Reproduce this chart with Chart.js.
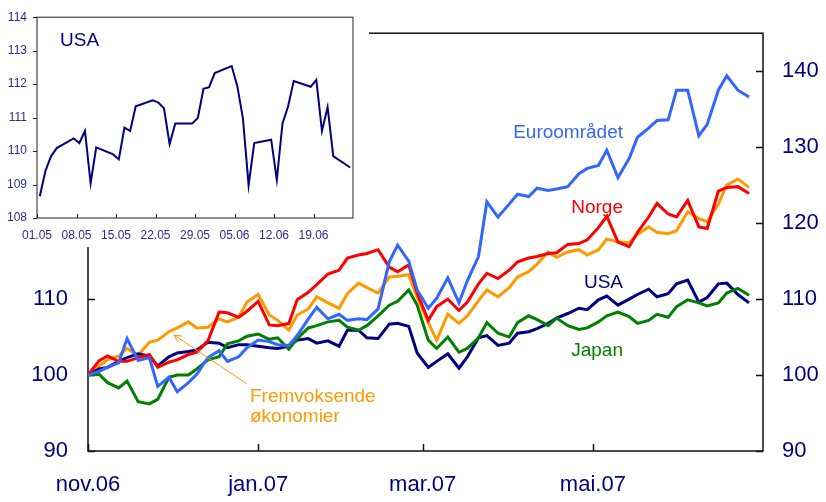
<!DOCTYPE html>
<html>
<head>
<meta charset="utf-8">
<title>Aksjeindekser</title>
<script src="https://cdn.jsdelivr.net/npm/chart.js@4.4.1/dist/chart.umd.min.js"></script>
<style>
  html, body { margin: 0; padding: 0; background: #fff; }
  #wrap { position: relative; width: 826px; height: 502px; }
  #mainChart { position: absolute; left: 0; top: 0; }
  #insetChart { position: absolute; left: 0; top: 0; background: #fff; }
</style>
</head>
<body>
<div id="wrap">
  <canvas id="mainChart" width="826" height="502"></canvas>
  <canvas id="insetChart" width="369" height="247"></canvas>
</div>
<script>
// Main chart: days since 1 Nov 2006, index 1 Nov 2006 = 100
const days = [0, 4, 7, 11, 14, 18, 22, 25, 29, 32, 36, 39, 43, 47, 50, 54, 57, 61, 65, 68,
  72, 75, 79, 82, 86, 90, 93, 97, 100, 104, 108, 111, 115, 118, 122, 125, 129, 133, 136, 140,
  143, 147, 151, 154, 158, 161, 165, 168, 172, 176, 179, 183, 186, 190, 194, 197, 201, 204, 208, 211,
  215, 219, 222, 226, 229, 233, 237];

const euro = [100.0, 100.5, 101.0, 101.6, 104.8, 101.9, 102.3, 98.5, 99.7, 97.8, 99.0, 100.1, 102.3, 103.2, 101.8, 102.4, 103.6, 104.6, 104.4, 104.0,
  103.9, 105.2, 107.4, 108.9, 107.4, 108.0, 107.2, 107.4, 107.3, 108.7, 114.9, 117.1, 115.0, 111.2, 108.8, 110.1, 112.8, 109.5, 112.4, 115.6,
  122.8, 120.8, 122.5, 123.8, 123.5, 124.6, 124.3, 124.5, 124.8, 126.5, 127.2, 127.6, 129.6, 126.0, 128.5, 131.3, 132.5, 133.5, 133.6, 137.5,
  137.5, 131.5, 133.0, 137.5, 139.4, 137.5, 136.6];

const norge = [100.0, 101.9, 102.5, 101.8, 101.8, 102.3, 102.7, 101.0, 101.7, 102.0, 102.7, 103.0, 104.5, 108.3, 108.2, 107.6, 108.4, 109.7, 106.6, 106.5,
  106.8, 109.9, 110.9, 111.9, 113.3, 113.8, 115.4, 115.8, 116.0, 116.5, 114.2, 113.6, 114.5, 110.8, 107.2, 109.0, 110.0, 108.5, 109.6, 112.0,
  113.4, 112.7, 113.8, 114.9, 115.4, 115.6, 116.0, 116.1, 117.2, 117.3, 117.8, 119.4, 120.9, 117.5, 116.9, 118.8, 120.8, 122.6, 121.2, 120.8,
  123.0, 119.5, 119.3, 124.2, 124.7, 124.8, 123.9];

const fremvoksende = [100.0, 101.2, 102.0, 102.5, 103.5, 102.6, 104.3, 104.6, 105.7, 106.2, 107.0, 106.2, 106.3, 107.4, 107.0, 107.6, 109.6, 110.6, 107.9, 107.2,
  105.9, 107.9, 108.7, 110.3, 109.5, 108.8, 110.7, 112.1, 111.5, 110.8, 112.9, 113.0, 113.2, 110.2, 106.9, 104.6, 108.0, 106.8, 107.8, 109.8,
  111.2, 110.3, 111.5, 112.9, 113.6, 114.6, 116.2, 115.5, 116.2, 116.5, 115.8, 116.5, 117.9, 117.5, 117.4, 118.5, 119.5, 118.8, 118.6, 119.0,
  121.5, 120.6, 120.2, 122.5, 125.0, 125.8, 124.7];

const usa = [100.0, 100.8, 101.0, 101.8, 102.3, 102.8, 102.5, 101.2, 102.4, 102.9, 103.1, 103.3, 104.3, 104.2, 103.6, 104.0, 104.0, 103.8, 103.6, 103.5,
  103.8, 104.6, 104.8, 104.2, 104.5, 103.8, 105.9, 105.9, 104.9, 104.8, 106.7, 106.8, 106.4, 102.9, 101.0, 101.8, 102.8, 100.9, 102.4, 104.9,
  105.2, 103.9, 104.2, 105.5, 105.7, 106.1, 106.8, 107.5, 108.1, 108.8, 108.6, 109.9, 110.4, 109.2, 110.0, 110.6, 111.3, 110.3, 110.7, 112.0,
  112.5, 109.6, 110.2, 112.0, 112.1, 110.6, 109.5];

const japan = [100.0, 100.1, 99.0, 98.3, 99.2, 96.5, 96.2, 96.8, 99.7, 100.0, 100.0, 100.8, 102.0, 102.4, 104.1, 104.5, 105.1, 105.4, 104.7, 104.9,
  103.4, 104.8, 106.2, 106.5, 107.0, 107.2, 106.3, 105.9, 106.5, 107.8, 109.2, 109.7, 111.2, 109.2, 104.6, 103.5, 105.0, 103.0, 103.5, 104.9,
  106.9, 105.5, 105.0, 106.9, 107.8, 107.3, 106.5, 107.5, 106.5, 106.0, 106.2, 107.0, 107.8, 108.3, 107.7, 106.8, 107.2, 108.0, 107.6, 109.0,
  109.9, 109.5, 109.1, 109.5, 110.8, 111.4, 110.5];

const tickDays = [0, 61, 120, 181];
const tickLabels = ['nov.06', 'jan.07', 'mar.07', 'mai.07'];

// Inset: USA, trading days since 1 May 2007
const usaDays = [0, 1, 2, 3, 6, 7, 8, 9, 10, 13, 14, 15, 16, 17, 20, 21, 22, 23, 24, 27,
  28, 29, 30, 31, 34, 35, 36, 37, 38, 41, 42, 43, 44, 45, 48, 49, 50, 51, 52, 55];
const usaDaily = [108.65, 109.41, 109.85, 110.09, 110.38, 110.24, 110.6, 109.04, 110.11, 109.9,
  109.75, 110.7, 110.6, 111.34, 111.52, 111.45, 111.28, 110.21, 110.82, 110.82,
  110.99, 111.86, 111.91, 112.33, 112.54, 111.94, 110.97, 108.98, 110.24, 110.34,
  109.14, 110.82, 111.34, 112.09, 111.92, 112.13, 110.6, 111.31, 109.85, 109.51];
const insetTickDays = [0, 7, 14, 21, 28, 35, 42, 49];
const insetTickLabels = ['01.05', '08.05', '15.05', '22.05', '29.05', '05.06', '12.06', '19.06'];

const FONT = "'Liberation Sans', Arial, sans-serif";
const NAVY = '#000080';

// box round the plot area, with short tick marks
const frame = {
  id: 'frame',
  beforeDatasetsDraw(chart, args, opts) {
    const { ctx, chartArea: a, scales } = chart;
    ctx.save();
    ctx.strokeStyle = opts.color;
    ctx.lineWidth = opts.width;
    ctx.strokeRect(a.left, a.top, a.right - a.left, a.bottom - a.top);
    ctx.beginPath();
    opts.marks.forEach(m => {
      const s = scales[m.scale];
      s.ticks.forEach(t => {
        const p = Math.round(s.getPixelForValue(t.value)) + 0.5;
        if (m.side === 'left') { ctx.moveTo(a.left, p); ctx.lineTo(a.left + m.len, p); }
        if (m.side === 'right') { ctx.moveTo(a.right, p); ctx.lineTo(a.right - m.len, p); }
        if (m.side === 'bottom') { ctx.moveTo(p, a.bottom); ctx.lineTo(p, a.bottom - m.len); }
      });
    });
    ctx.stroke();
    ctx.restore();
  }
};

// free text labels and the arrow
const notes = {
  id: 'notes',
  afterDatasetsDraw(chart, args, opts) {
    const ctx = chart.ctx;
    ctx.save();
    ctx.textBaseline = 'alphabetic';
    (opts.items || []).forEach(n => {
      ctx.font = n.size + 'px ' + FONT;
      ctx.fillStyle = n.color;
      ctx.textAlign = n.align;
      n.text.forEach((line, i) => ctx.fillText(line, n.x, n.y + i * (n.lh || 0)));
    });
    (opts.arrows || []).forEach(ar => {
      const ang = Math.atan2(ar.y2 - ar.y1, ar.x2 - ar.x1);
      ctx.strokeStyle = ar.color;
      ctx.lineWidth = 1;
      ctx.beginPath();
      ctx.moveTo(ar.x1, ar.y1);
      ctx.lineTo(ar.x2, ar.y2);
      ctx.moveTo(ar.x2 - 8 * Math.cos(ang - 0.45), ar.y2 - 8 * Math.sin(ang - 0.45));
      ctx.lineTo(ar.x2, ar.y2);
      ctx.lineTo(ar.x2 - 8 * Math.cos(ang + 0.45), ar.y2 - 8 * Math.sin(ang + 0.45));
      ctx.stroke();
    });
    ctx.restore();
  }
};

function series(label, values, color) {
  return {
    label: label,
    data: days.map((d, i) => ({ x: d, y: values[i] })),
    borderColor: color,
    borderWidth: 3,
    pointRadius: 0,
    tension: 0,
    fill: false
  };
}

// no built-in grid or tick marks; the frame plugin draws them
const noGrid = { display: false, drawTicks: false };

new Chart(document.getElementById('mainChart'), {
  type: 'line',
  data: {
    datasets: [
      series('Euroområdet', euro, '#3366ff'),
      series('Norge', norge, '#ff0000'),
      series('Japan', japan, '#008000'),
      series('USA', usa, NAVY),
      series('Fremvoksende økonomier', fremvoksende, '#ff9900')
    ]
  },
  options: {
    responsive: false,
    animation: false,
    devicePixelRatio: 1,
    layout: { padding: { top: 33, left: 0, right: 0, bottom: 0 } },
    plugins: {
      legend: { display: false },
      tooltip: { enabled: false },
      frame: {
        color: '#111', width: 1.5,
        marks: [
          { scale: 'y', side: 'left', len: 7 },
          { scale: 'y2', side: 'right', len: 7 },
          { scale: 'x', side: 'bottom', len: 7 }
        ]
      },
      notes: {
        items: [
          { text: ['Euroområdet'], x: 623, y: 138, size: 19, color: '#3366ff', align: 'right' },
          { text: ['Norge'], x: 623, y: 213, size: 19, color: '#ff0000', align: 'right' },
          { text: ['USA'], x: 623, y: 288, size: 19, color: NAVY, align: 'right' },
          { text: ['Japan'], x: 623, y: 356, size: 19, color: '#008000', align: 'right' },
          { text: ['Fremvoksende', 'økonomier'], x: 250, y: 402, lh: 19.5, size: 19, color: '#ff9900', align: 'left' }
        ],
        arrows: [{ x1: 247, y1: 384, x2: 174, y2: 335, color: '#ff9900' }]
      }
    },
    scales: {
      x: {
        type: 'linear', min: 0, max: 242,
        grid: noGrid, border: { display: false },
        afterBuildTicks: s => { s.ticks = tickDays.map(v => ({ value: v })); },
        afterFit: s => { s.height = 51; },
        ticks: {
          padding: 21, color: NAVY, font: { family: FONT, size: 22 },
          maxRotation: 0, autoSkip: false,
          callback: v => tickLabels[tickDays.indexOf(v)]
        }
      },
      y: {
        position: 'left', min: 90, max: 145,
        grid: noGrid, border: { display: false },
        afterBuildTicks: s => { s.ticks = [90, 100, 110].map(v => ({ value: v })); },
        afterFit: s => { s.width = 88; },
        ticks: { padding: 20, color: NAVY, font: { family: FONT, size: 22 } }
      },
      y2: {
        position: 'right', min: 90, max: 145,
        grid: noGrid, border: { display: false },
        afterBuildTicks: s => { s.ticks = [90, 100, 110, 120, 130, 140].map(v => ({ value: v })); },
        afterFit: s => { s.width = 63; },
        ticks: { padding: 19, color: NAVY, font: { family: FONT, size: 22 } }
      }
    }
  },
  plugins: [frame, notes]
});

new Chart(document.getElementById('insetChart'), {
  type: 'line',
  data: {
    datasets: [{
      label: 'USA',
      // each trading day is drawn in the middle of its day slot
      data: usaDays.map((d, i) => ({ x: d + 0.5, y: usaDaily[i] })),
      borderColor: NAVY,
      borderWidth: 2,
      pointRadius: 0,
      tension: 0,
      fill: false
    }]
  },
  options: {
    responsive: false,
    animation: false,
    devicePixelRatio: 1,
    layout: { padding: { top: 13, right: 16, left: 0, bottom: 0 } },
    plugins: {
      legend: { display: false },
      tooltip: { enabled: false },
      frame: {
        color: '#222', width: 1,
        marks: [
          { scale: 'y', side: 'left', len: -4 },
          { scale: 'x', side: 'bottom', len: 4 }
        ]
      },
      notes: {
        items: [{ text: ['USA'], x: 60, y: 45.5, size: 19, color: NAVY, align: 'left' }]
      }
    },
    scales: {
      x: {
        type: 'linear', min: 0, max: 56,
        grid: noGrid, border: { display: false },
        afterBuildTicks: s => { s.ticks = insetTickDays.map(v => ({ value: v })); },
        afterFit: s => { s.height = 29; },
        ticks: {
          padding: 10, color: '#2b2b8c', font: { family: FONT, size: 12 },
          maxRotation: 0, autoSkip: false,
          callback: v => insetTickLabels[insetTickDays.indexOf(v)]
        }
      },
      y: {
        min: 108, max: 114,
        grid: noGrid, border: { display: false },
        afterFit: s => { s.width = 37; },
        ticks: { stepSize: 1, padding: 10, color: '#2b2b8c', font: { family: FONT, size: 12 } }
      }
    }
  },
  plugins: [frame, notes]
});
</script>
</body>
</html>
